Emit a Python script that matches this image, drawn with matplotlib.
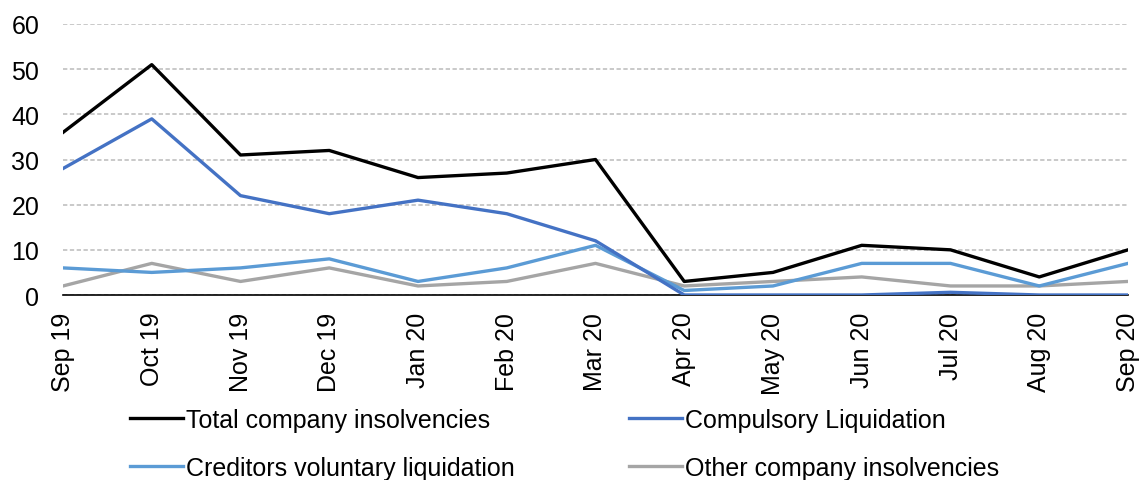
import matplotlib
matplotlib.use("Agg")
import matplotlib.pyplot as plt

months = ["Sep 19", "Oct 19", "Nov 19", "Dec 19", "Jan 20", "Feb 20", "Mar 20",
          "Apr 20", "May 20", "Jun 20", "Jul 20", "Aug 20", "Sep 20"]
total = [36, 51, 31, 32, 26, 27, 30, 3, 5, 11, 10, 4, 10]
compulsory = [28, 39, 22, 18, 21, 18, 12, 0, 0, 0, 0.6, 0, 0]
creditors = [6, 5, 6, 8, 3, 6, 11, 1, 2, 7, 7, 2, 7]
other = [2, 7, 3, 6, 2, 3, 7, 2, 3, 4, 2, 2, 3]
yticks = [0, 10, 20, 30, 40, 50, 60]

plt.rcParams['font.family'] = ['Liberation Sans', 'DejaVu Sans']
fs = 18

fig = plt.figure(figsize=(11.44, 4.81), dpi=100)
ax = fig.add_axes([63/1144, 1-296/481, (1128-63)/1144, (296-25)/481])

x = list(range(len(months)))
lw = 2.4
ax.plot(x, total, color="#000000", lw=lw, label="Total company insolvencies", zorder=5)
ax.plot(x, compulsory, color="#4472C4", lw=lw, label="Compulsory Liquidation", zorder=4)
ax.plot(x, creditors, color="#5B9BD5", lw=lw, label="Creditors voluntary liquidation", zorder=3)
ax.plot(x, other, color="#A5A5A5", lw=lw, label="Other company insolvencies", zorder=2)

ax.set_xlim(0, len(months) - 1)
ax.set_ylim(0, 60)
ax.set_yticks(yticks)
ax.set_yticklabels([str(v) for v in yticks], fontsize=fs)
ax.yaxis.grid(True, color="#C0C0C0", linestyle=(0, (2.6, 1.5)), lw=1.2)
ax.set_axisbelow(True)

ax.set_xticks(x)
ax.set_xticklabels(months, rotation=90, fontsize=fs)
ax.tick_params(axis="y", length=0, pad=17)
ax.tick_params(axis="x", which="major", length=0, pad=12)
ax.set_xticks(x[::4], minor=True)
ax.tick_params(axis="x", which="minor", length=6, width=1.2, color="black", direction="out")

for s in ["top", "right", "left"]:
    ax.spines[s].set_visible(False)
ax.spines["bottom"].set_linewidth(1.2)
ax.spines["bottom"].set_color("black")

handles, labels = ax.get_legend_handles_labels()
order = [0, 2, 1, 3]
fig.legend([handles[i] for i in order], [labels[i] for i in order],
           ncol=2, loc="upper left", bbox_to_anchor=(130/1144, 1-409/481),
           frameon=False, fontsize=fs, handlelength=2.1, handletextpad=0.12,
           columnspacing=4.6, labelspacing=0.95, borderaxespad=0, borderpad=0)

fig.savefig("out.png", dpi=100)
